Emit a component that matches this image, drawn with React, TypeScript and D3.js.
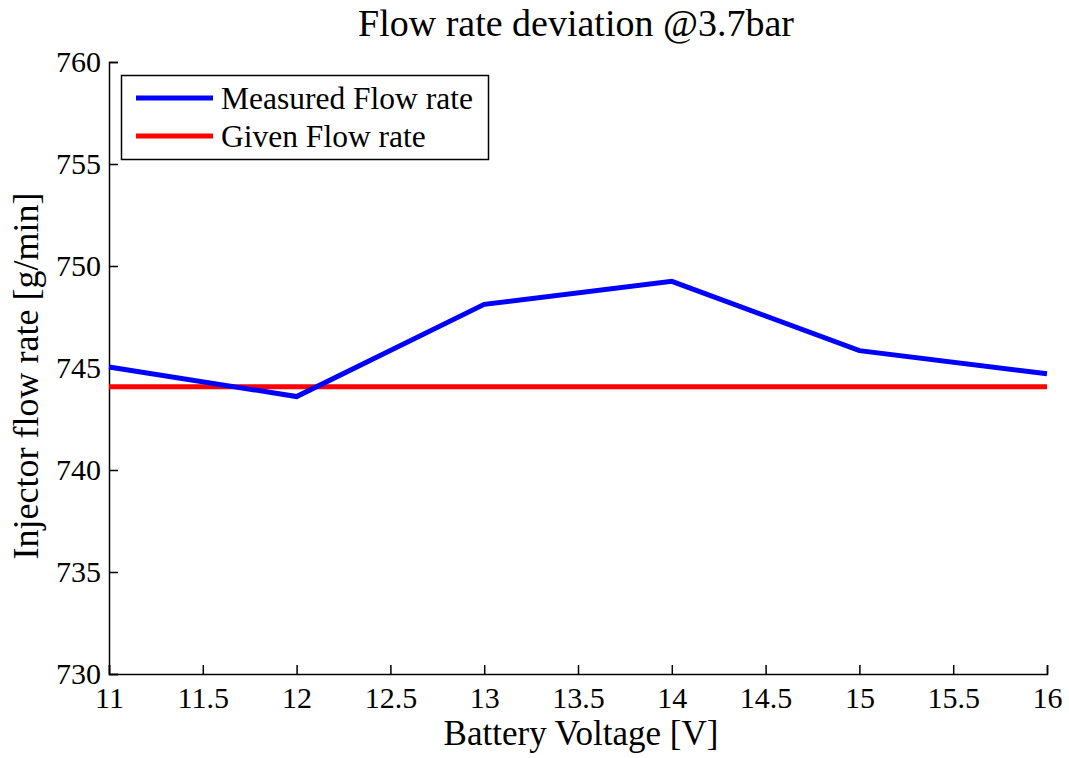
import React, { useEffect, useRef } from 'react';
import * as d3 from 'd3';

// battery voltage steps
const voltages = [11, 12, 13, 14, 15, 16];
// measured injector flow [g/min]
const measuredFlow = [745.05, 743.6, 748.12, 749.25, 745.85, 744.72];
// nominal value
const givenFlow = 744.08;

const xTicks = [11, 11.5, 12, 12.5, 13, 13.5, 14, 14.5, 15, 15.5, 16];
const yTicks = [730, 735, 740, 745, 750, 755, 760];

const seriesNames = ['Measured Flow rate', 'Given Flow rate'];
const seriesColors = ['#0000ff', '#ff0000'];

const W = 1069, H = 758;
const FONT = '"Liberation Serif", "Times New Roman", serif';

export default function App() {
  const ref = useRef<SVGSVGElement>(null);

  useEffect(() => {
    const svg = d3.select(ref.current);
    svg.selectAll('*').remove();

    const left = 109, right = 1047, top = 62, bottom = 674;

    const x = d3.scaleLinear().domain([11, 16]).range([left, right]);
    const y = d3.scaleLinear().domain([730, 760]).range([bottom, top]);

    svg.append('rect').attr('width', W).attr('height', H).attr('fill', 'white');

    // x axis, ticks pointing inward
    const gx = svg.append('g').attr('transform', 'translate(0,' + bottom + ')')
      .call(d3.axisBottom(x).tickValues(xTicks).tickSizeInner(-9).tickSizeOuter(-9)
        .tickPadding(13).tickFormat(d => String(d)));
    gx.attr('font-family', FONT).attr('font-size', 30);
    gx.selectAll('text').attr('fill', '#000');
    gx.selectAll('line, path').attr('stroke', '#000').attr('stroke-width', 1.5);

    const gy = svg.append('g').attr('transform', 'translate(' + left + ',0)')
      .call(d3.axisLeft(y).tickValues(yTicks).tickSizeInner(-9).tickSizeOuter(-9)
        .tickPadding(8).tickFormat(d => String(d)));
    gy.attr('font-family', FONT).attr('font-size', 30);
    gy.selectAll('text').attr('fill', '#000');
    gy.selectAll('line, path').attr('stroke', '#000').attr('stroke-width', 1.5);

    // given flow line
    svg.append('path')
      .datum(voltages)
      .attr('d', d3.line<number>().x(d => x(d)).y(() => y(givenFlow)))
      .attr('fill', 'none').attr('stroke', seriesColors[1]).attr('stroke-width', 5);

    // measured flow line
    svg.append('path')
      .datum(voltages.map((v, i) => [v, measuredFlow[i]] as [number, number]))
      .attr('d', d3.line().x(d => x(d[0])).y(d => y(d[1])))
      .attr('fill', 'none').attr('stroke', seriesColors[0]).attr('stroke-width', 5)
      .attr('stroke-linejoin', 'miter');

    // legend
    const lg = svg.append('g');
    lg.append('rect').attr('x', 121.5).attr('y', 75.5).attr('width', 367).attr('height', 84)
      .attr('fill', 'white').attr('stroke', '#000').attr('stroke-width', 1.5);
    seriesNames.forEach((name, i) => {
      const yy = 98 + i * 38;
      lg.append('line').attr('x1', 136).attr('x2', 213).attr('y1', yy).attr('y2', yy)
        .attr('stroke', seriesColors[i]).attr('stroke-width', 5);
      lg.append('text').attr('x', 221).attr('y', yy + 11)
        .attr('font-family', FONT).attr('font-size', 31.5).text(name);
    });

    // titles
    svg.append('text').attr('x', 576).attr('y', 36).attr('text-anchor', 'middle')
      .attr('font-family', FONT).attr('font-size', 38).text('Flow rate deviation @3.7bar');
    svg.append('text').attr('x', 581).attr('y', 745).attr('text-anchor', 'middle')
      .attr('font-family', FONT).attr('font-size', 35).text('Battery Voltage [V]');
    svg.append('text').attr('transform', 'translate(38,376) rotate(-90)').attr('text-anchor', 'middle')
      .attr('font-family', FONT).attr('font-size', 36).text('Injector flow rate [g/min]');
  }, []);

  return (
    <svg ref={ref} width={W} height={H}
      style={{ position: 'absolute', left: 0, top: 0, display: 'block' }} />
  );
}
